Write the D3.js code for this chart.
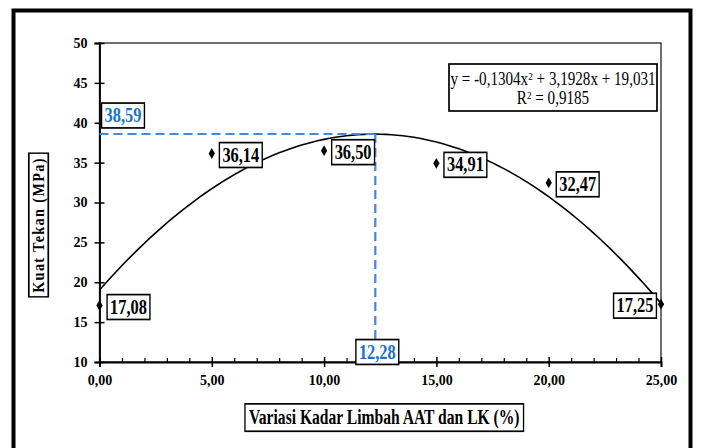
<!DOCTYPE html>
<html>
<head>
<meta charset="utf-8">
<script src="https://cdn.jsdelivr.net/npm/d3@7"></script>
<style>
  body { margin: 0; background: #fff; }
</style>
</head>
<body>
<div id="chart"></div>
<script>
// data
const kadar = [0, 5, 10, 15, 20, 25];
const kuatTekan = [17.08, 36.14, 36.50, 34.91, 32.47, 17.25];
const trendCoef = [-0.1304, 3.1928, 19.031]; // a x^2 + b x + c
const rSquared = 0.9185;
const optimum = [12.28, 38.59]; // x, y
const xTicks = [0, 5, 10, 15, 20, 25];
const xMinorTicks = d3.range(0, 26).filter(d => d % 5 !== 0);
const yTicks = [10, 15, 20, 25, 30, 35, 40, 45, 50];

const width = 702;
const height = 448;
const margin = { top: 43, right: 41, bottom: 86, left: 99.5 };
const serif = "'Liberation Serif'";

const locale = d3.formatLocale({ decimal: ",", thousands: ".", grouping: [3], currency: ["", ""], minus: "-" });
const fmt2 = locale.format(".2f");
const fmt4 = d => locale.format(",")(d);

const svg = d3.select("#chart")
    .append("svg")
    .attr("width", width)
    .attr("height", height)
    .attr("font-family", serif);

// outer frame
svg.append("rect")
    .attr("x", 13.5).attr("y", 10.5)
    .attr("width", 677).attr("height", 460)
    .attr("fill", "none").attr("stroke", "#000").attr("stroke-width", 4);

const x = d3.scaleLinear()
    .domain([0, 25])
    .range([margin.left, width - margin.right]);

const y = d3.scaleLinear()
    .domain([10, 50])
    .range([height - margin.bottom, margin.top]);

// plot area box
svg.append("rect")
    .attr("x", x(0)).attr("y", y(50))
    .attr("width", x(25) - x(0)).attr("height", y(10) - y(50))
    .attr("fill", "none").attr("stroke", "#222").attr("stroke-width", 1.3);

// x axis
const xAxis = svg.append("g")
    .attr("transform", `translate(0, ${y(10)})`)
    .call(d3.axisBottom(x).tickValues(xTicks).tickSize(5).tickPadding(8).tickFormat(fmt2));
xAxis.attr("font-family", serif);
xAxis.selectAll(".tick line").attr("y1", -5).attr("stroke-width", 1.5);
xAxis.select(".domain").attr("stroke-width", 1.8);
xAxis.selectAll("text")
    .attr("font-family", serif)
    .attr("font-size", 14).attr("font-weight", "bold");

svg.append("g")
    .attr("transform", `translate(0, ${y(10)})`)
    .call(d3.axisBottom(x).tickValues(xMinorTicks).tickSize(-4).tickFormat(""))
    .call(g => g.select(".domain").remove())
    .selectAll(".tick line").attr("stroke-width", 1.2);

// y axis
const yAxis = svg.append("g")
    .attr("transform", `translate(${x(0)}, 0)`)
    .call(d3.axisLeft(y).tickValues(yTicks).tickSize(5).tickPadding(7).tickFormat(d3.format("d")));
yAxis.attr("font-family", serif);
yAxis.selectAll(".tick line").attr("x1", 5).attr("stroke-width", 1.5);
yAxis.select(".domain").attr("stroke-width", 1.8);
yAxis.selectAll("text")
    .attr("font-family", serif)
    .attr("font-size", 14).attr("font-weight", "bold");

// trendline from the chart's own equation
const poly = v => trendCoef[0] * v * v + trendCoef[1] * v + trendCoef[2];
const curve = d3.range(0, 25.001, 0.25).map(v => [v, poly(v)]);
svg.append("path")
    .datum(curve)
    .attr("fill", "none")
    .attr("stroke", "#000")
    .attr("stroke-width", 1.6)
    .attr("d", d3.line().x(d => x(d[0])).y(d => y(d[1])));

// optimum dashed guides
const blue = "#4a86d4";
svg.append("line")
    .attr("x1", x(0)).attr("x2", x(optimum[0]))
    .attr("y1", y(optimum[1])).attr("y2", y(optimum[1]))
    .attr("stroke", blue).attr("stroke-width", 2.2).attr("stroke-dasharray", "9,5");
svg.append("line")
    .attr("x1", x(optimum[0])).attr("x2", x(optimum[0]))
    .attr("y1", y(optimum[1])).attr("y2", y(10))
    .attr("stroke", blue).attr("stroke-width", 2.2).attr("stroke-dasharray", "9,5");

// boxed label helper (text squeezed horizontally like the original)
function boxLabel(cx, cy, text, opts) {
    const sx = opts.sx || 0.82;
    const g = svg.append("g")
        .attr("transform", `translate(${cx}, ${cy}) rotate(${opts.rotate || 0}) scale(${sx}, 1)`);
    const t = g.append("text")
        .attr("x", 0).attr("y", 0)
        .attr("text-anchor", "middle")
        .attr("dominant-baseline", "central")
        .attr("font-family", serif)
        .attr("font-size", opts.size || 20)
        .attr("font-weight", opts.weight || "bold")
        .attr("letter-spacing", opts.spacing || 0)
        .attr("fill", opts.color || "#000")
        .text(text);
    const bb = t.node().getBBox();
    const padX = (opts.padX == null ? 3 : opts.padX) / sx;
    const padY = opts.padY == null ? 1.5 : opts.padY;
    g.insert("rect", "text")
        .attr("x", bb.x - padX).attr("y", bb.y - padY)
        .attr("width", bb.width + 2 * padX).attr("height", bb.height + 2 * padY)
        .attr("fill", "#fff").attr("stroke", "#000").attr("stroke-width", 1.7);
    return g;
}

boxLabel(x(0) + 23.5, y(optimum[1]) - 18.5, fmt2(optimum[1]), { color: "#1a73c9" });
boxLabel(x(optimum[0]) + 2, y(10) - 10, fmt2(optimum[0]), { color: "#1a73c9" });

// data points
svg.append("g")
    .selectAll("path")
    .data(kadar)
    .enter()
    .append("path")
    .attr("transform", (d, i) => `translate(${x(d)}, ${y(kuatTekan[i])})`)
    .attr("d", d3.symbol().type(d3.symbolDiamond).size(34))
    .attr("fill", "#000");

// point labels
kadar.forEach((d, i) => {
    const px = x(d), py = y(kuatTekan[i]);
    const last = i === kadar.length - 1;
    const cx = last ? px - 26 : px + 29;
    boxLabel(cx, py + 1.5, fmt2(kuatTekan[i]), {});
});

// equation box
const eq = svg.append("g").attr("font-family", serif);
const eqCx = 553;
eq.append("rect")
    .attr("x", 449).attr("y", 64).attr("width", 208).attr("height", 47)
    .attr("fill", "#fff").attr("stroke", "#000").attr("stroke-width", 1.7);
const eqText = eq.append("g")
    .attr("transform", `translate(${eqCx}, 0) scale(0.84, 1)`);
const eqLine = eqText.append("text")
    .attr("x", 0).attr("y", 85)
    .attr("text-anchor", "middle")
    .attr("font-family", serif)
    .attr("font-size", 18);
eqLine.append("tspan").text(`y = ${fmt4(trendCoef[0])}x`);
eqLine.append("tspan").attr("baseline-shift", "super").attr("font-size", 11).text("2");
eqLine.append("tspan").text(` + ${fmt4(trendCoef[1])}x + ${fmt4(trendCoef[2])}`);
const r2 = eqText.append("text")
    .attr("x", 0).attr("y", 104)
    .attr("text-anchor", "middle")
    .attr("font-family", serif)
    .attr("font-size", 18);
r2.append("tspan").text("R");
r2.append("tspan").attr("baseline-shift", "super").attr("font-size", 11).text("2");
r2.append("tspan").text(` = ${fmt4(rSquared)}`);

// axis titles
boxLabel((x(0) + x(25)) / 2 + 4, 417, "Variasi Kadar Limbah AAT dan LK (%)", { size: 20, sx: 0.78, padX: 4, padY: 2 });
boxLabel(38, 225, "Kuat Tekan (MPa)", { size: 17, spacing: 1.6, sx: 0.84, rotate: -90, padX: 4, padY: 0 });
</script>
</body>
</html>
